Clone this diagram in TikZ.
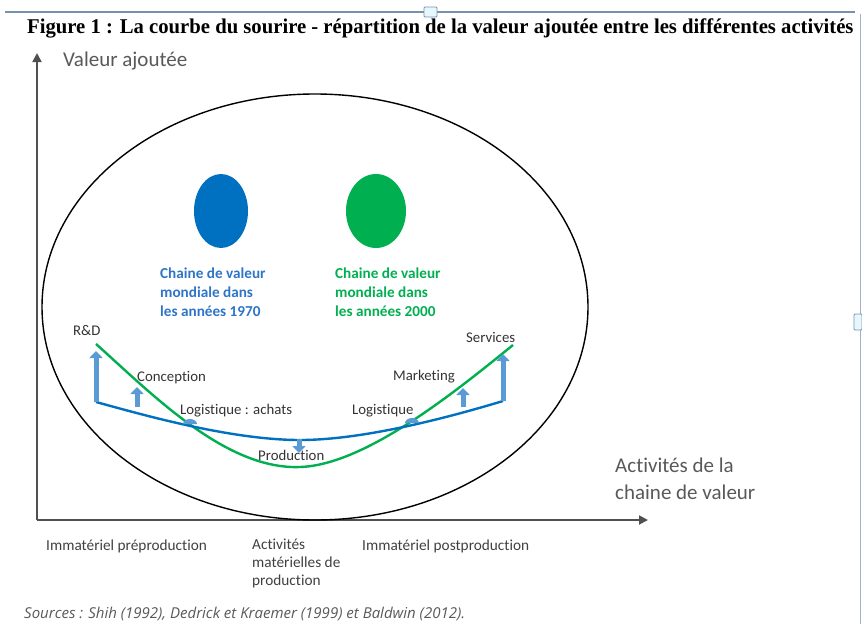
\documentclass[tikz,border=0pt]{standalone}
\usepackage{fontspec}
\setmainfont{Carlito}[Ligatures=NoCommon]
\newfontfamily\titlefont{Liberation Serif}
\newfontfamily\srcfont{Open Sans}
\usetikzlibrary{arrows.meta}
\definecolor{cblue}{RGB}{0,112,192}
\definecolor{cgreen}{RGB}{0,176,80}
\definecolor{lblue}{RGB}{91,155,213}
\definecolor{tblue}{RGB}{46,117,200}
\definecolor{axgray}{RGB}{80,80,80}
\definecolor{txgray}{RGB}{89,89,89}
\definecolor{frame}{RGB}{120,145,175}
\tikzset{
  lab/.style={font=\fontsize{14.8}{16}\selectfont, text=black!80, inner sep=0pt, anchor=base west},
  axlab/.style={font=\fontsize{21}{27}\selectfont, text=txgray, inner sep=0pt, anchor=base west},
  botlab/.style={font=\fontsize{15.3}{18}\selectfont, text=black!75, inner sep=0pt, anchor=base west},
  legend/.style={font=\bfseries\fontsize{15.2}{19}\selectfont, inner sep=0pt, anchor=north west, align=left},
  vaarrow/.style={draw=lblue, line width=5pt, -{Triangle[width=13pt,length=7pt]}},
  axis/.style={draw=axgray, line width=1.8pt, -{Triangle[width=9pt,length=9pt]}}
}
\begin{document}
\begin{tikzpicture}[x=1pt,y=-1pt]
\useasboundingbox (0,0) rectangle (862,624);
% frame artifacts
\draw[frame, line width=1.2pt] (5,12) -- (855,12);
\draw[frame!70, line width=0.8pt] (860,14) -- (860,624);
\draw[frame, fill=cyan!10, line width=0.8pt, rounded corners=1pt] (424,7) rectangle (437,17);
\draw[frame, fill=cyan!10, line width=0.8pt, rounded corners=1pt] (854,314) rectangle (862,330);
% title
\node[inner sep=0pt, anchor=base west, font=\titlefont\bfseries\fontsize{21}{23}\selectfont, xscale=0.985] (title) at (27,33) {Figure 1 : La courbe du sourire - répartition de la valeur ajoutée entre les différentes activités};
% axes
\coordinate (O) at (37,520);
\coordinate (Ytop) at (37,53);
\coordinate (Xend) at (648,520);
\draw[axis] (O) -- (Ytop);
\draw[axis] (O) -- (Xend);
\node[axlab] (yl) at (63,66) {Valeur ajoutée};
\node[axlab, align=left, anchor=north west] (xl) at (615,458) {Activités de la\\chaine de valeur};
% big circle
\draw[black, line width=1.4pt] (315,307) ellipse [x radius=273, y radius=213];
% dots
\fill[cblue] (221,211) ellipse [x radius=27, y radius=37];
\fill[cgreen] (376,211) ellipse [x radius=30, y radius=37];
\node[legend, text=tblue] (lb) at (160,268) {Chaine de valeur\\mondiale dans\\les années 1970};
\node[legend, text=cgreen] (lg) at (335,268) {Chaine de valeur\\mondiale dans\\les années 2000};
% curves
\coordinate (g0) at (96,344);
\coordinate (x1) at (190,424);
\coordinate (gm) at (300,467);
\coordinate (x2) at (412,423);
\coordinate (g1) at (513,345);
\coordinate (b0) at (96,402);
\coordinate (bm) at (300,440);
\coordinate (b1) at (503,401);
\draw[cgreen, line width=2.4pt] (g0) .. controls (150,392) and (225,470) .. (gm) .. controls (365,465) and (455,392) .. (g1);
\draw[cblue, line width=2.4pt] (b0) .. controls (140,414) and (230,440) .. (bm) .. controls (360,440) and (440,420) .. (b1);
% intersection bumps
\fill[lblue] ([xshift=-7pt]x1) arc[start angle=180, end angle=0, x radius=7pt, y radius=5pt] -- cycle;
\fill[lblue] ([xshift=-7pt]x2) arc[start angle=180, end angle=0, x radius=7pt, y radius=5pt] -- cycle;
% value arrows
\coordinate (rdtop) at (96,351);
\coordinate (cb) at (137,407);
\coordinate (ct) at (137,387);
\coordinate (pb) at (299,439);
\coordinate (pt) at (299,453);
\coordinate (mb) at (463,407);
\coordinate (mt) at (463,388);
\coordinate (st) at (503,354);
\draw[vaarrow] (b0) -- (rdtop);
\draw[vaarrow] (cb) -- (ct);
\draw[vaarrow] (pb) -- (pt);
\draw[vaarrow] (mb) -- (mt);
\draw[vaarrow] (b1) -- (st);
% labels
\node[lab] (rd) at (73,335) {R\&D};
\node[lab] (conc) at (137,381) {Conception};
\node[lab] (la) at (180,414) {Logistique : achats};
\node[lab] (prod) at (258,460) {Production};
\node[lab] (serv) at (466,342) {Services};
\node[lab] (mkt) at (393,380) {Marketing};
\node[lab] (log) at (352,414) {Logistique};
% bottom labels
\node[botlab] (pre) at (46,550) {Immatériel préproduction};
\node[botlab, align=left, anchor=north west] (mat) at (252,539) {Activités\\matérielles de\\production};
\node[botlab] (post) at (362,550) {Immatériel postproduction};
\node[inner sep=0pt, anchor=base west, text=txgray, font=\srcfont\itshape\fontsize{15}{17}\selectfont] (src) at (24,618) {Sources : Shih (1992), Dedrick et Kraemer (1999) et Baldwin (2012).};
\end{tikzpicture}
\end{document}
